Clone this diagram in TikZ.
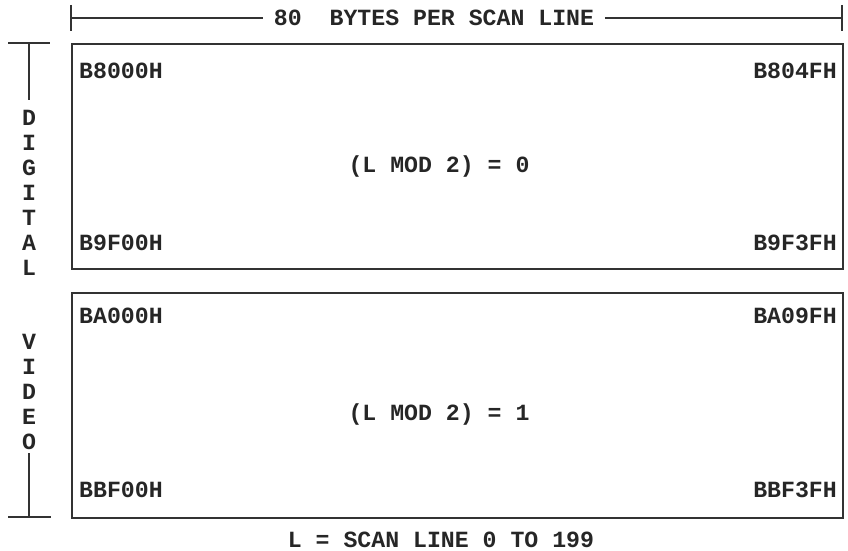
\documentclass[tikz,border=0pt]{standalone}
\usepackage{fontspec}
\setmonofont{Liberation Mono}
\usetikzlibrary{positioning}

\begin{document}
\begin{tikzpicture}[x=0.3mm,y=-0.3mm,
  rule/.style={line width=1.3pt,draw=black!80},
  lbl/.style={font=\ttfamily\bfseries\fontsize{19.8}{21.3}\selectfont,text=black!85,inner sep=0pt}]
  \useasboundingbox (0,0) rectangle (848,551);
  % the two halves of the buffer
  \node[rule,draw,rectangle,minimum width=771*0.3mm,minimum height=225*0.3mm,anchor=north west] (even) at (71,43) {};
  \node[rule,draw,rectangle,minimum width=771*0.3mm,minimum height=225*0.3mm,anchor=north west] (odd) at (71,292) {};
  \node[lbl,anchor=west] (e1) at (79,71) {B8000H};
  \node[lbl,anchor=east] (e2) at (837,71) {B804FH};
  \node[lbl,anchor=west] (e3) at (79,243) {B9F00H};
  \node[lbl,anchor=east] (e4) at (837,243) {B9F3FH};
  \node[lbl] (emod) at (439,167) {(L MOD 2) = 0};
  \node[lbl,anchor=west] (o1) at (79,316) {BA000H};
  \node[lbl,anchor=east] (o2) at (837,316) {BA09FH};
  \node[lbl,anchor=west] (o3) at (79,490) {BBF00H};
  \node[lbl,anchor=east] (o4) at (837,490) {BBF3FH};
  \node[lbl] (omod) at (439,415) {(L MOD 2) = 1};
  % width of a scan line
  \node[lbl,inner xsep=3.2mm] (bytes) at (434,18) {80~~BYTES PER SCAN LINE};
  \coordinate (wl) at (71,18);
  \coordinate (wr) at (842,18);
  \draw[rule] (71,5) -- (71,31);
  \draw[rule] (842,5) -- (842,31);
  \draw[rule] (wl) -- (bytes.west);
  \draw[rule] (bytes.east) -- (wr);
  % height of the buffer
  \node[lbl,align=center] (side) at (29,280) {D\\I\\G\\I\\T\\A\\L\\{}\\{}\\V\\I\\D\\E\\O};
  \coordinate (htop) at (29,43);
  \coordinate (hbot) at (29,517);
  \draw[rule] (8,43) -- (50,43);
  \draw[rule] (8,517) -- (51,517);
  \draw[rule] (htop) -- (29,100);
  \draw[rule] (29,453) -- (hbot);
  \node[lbl] (scan) at (441,540) {L = SCAN LINE 0 TO 199};
\end{tikzpicture}
\end{document}
